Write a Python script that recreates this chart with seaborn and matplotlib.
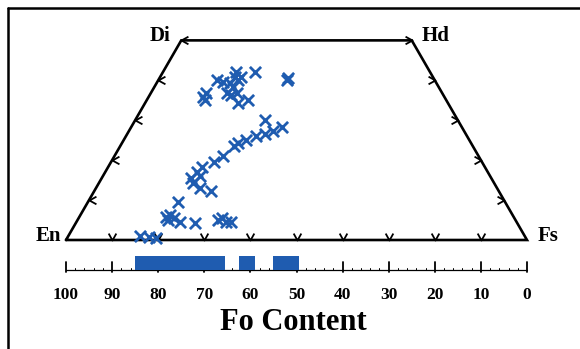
import numpy as np
import pandas as pd
import matplotlib
matplotlib.use("Agg")
import matplotlib.pyplot as plt
from matplotlib.lines import Line2D
import seaborn as sns

# ---- data: pyroxene compositions (Wo, Fs in mol %) ----
wo = [35.8, 35.1, 36.8, 40.1, 39.6, 39.3, 40.8, 40.1, 42.1, 38.3, 36.8, 36.8, 34.3,
      35.1, 42.1, 40.1, 40.6, 40.8, 36.3,
      30.1, 28.3, 27.3, 26.6, 26.1, 25.1, 24.3, 23.6, 21.0, 19.5, 18.3, 17.0, 15.5,
      16.0, 14.3, 13.0, 12.3, 9.5,
      5.8, 6.3, 5.5, 4.5, 4.3, 5.0, 5.5, 4.5, 4.5, 1.0, 0.8, 0.5, 5.0]
fs = [11.8, 12.6, 12.0, 12.7, 14.3, 15.9, 16.3, 17.3, 15.8, 17.1, 16.5, 18.7, 20.2,
      22.0, 20.0, 27.9, 27.9, 17.6, 17.6,
      28.1, 32.7, 31.3, 29.9, 28.2, 26.5, 25.2, 24.7, 23.5, 22.3, 20.4, 19.9, 19.4,
      21.1, 20.4, 22.6, 25.3, 19.5,
      18.8, 19.4, 20.7, 22.5, 25.9, 30.5, 31.1, 32.5, 33.5, 15.6, 17.6, 19.3, 19.6]

# olivine Fo content ranges (high, low)
fo_high = [85.0, 62.5, 55.0]
fo_low = [65.5, 59.0, 49.5]

fo_ticks = [100, 90, 80, 70, 60, 50, 40, 30, 20, 10, 0]
wo_ticks = [10, 20, 30, 40, 50]
corner_labels = ["En", "Fs", "Hd", "Di"]

# ---- style ----
sns.set_style("white")
plt.rcParams["font.family"] = ["Liberation Serif", "DejaVu Serif"]

BLUE = "#1f5cb0"
S3 = np.sqrt(3) / 2
SCALE = 4.61  # px per % unit

def tern(w, f):
    w = np.asarray(w, float)
    f = np.asarray(f, float)
    return f + w / 2.0, w * S3

fig = plt.figure(figsize=(5.8, 3.49), dpi=100)
ax = fig.add_axes([0, 0, 1, 1])
ax.set_xlim(-66 / SCALE, 514 / SCALE)
ax.set_ylim(-109 / SCALE, 240 / SCALE)
ax.axis("off")

# quadrilateral outline En-Fs-Hd-Di
cw = [0, 0, 50, 50, 0]
cf = [0, 100, 50, 0, 0]
qx, qy = tern(cw, cf)
ax.plot(qx, qy, color="black", lw=1.9, solid_joinstyle="miter", zorder=2)

# chevron tick marks
v_up = [(-0.55, 1), (0, 0), (0.55, 1)]
v_left = [(1, 0.55), (0, 0), (1, -0.55)]
v_right = [(-1, 0.55), (0, 0), (-1, -0.55)]
bx = [100 - t for t in fo_ticks[1:-1]]
ax.plot(bx, [0] * len(bx), ls="none", marker=v_up, ms=10, mfc="none",
        mec="black", mew=1.3, zorder=3)
lx, ly = tern(wo_ticks, [0] * len(wo_ticks))
ax.plot(lx, ly, ls="none", marker=v_left, ms=10, mfc="none",
        mec="black", mew=1.3, zorder=3)
rx, ry = tern(wo_ticks, [100 - w for w in wo_ticks])
ax.plot(rx, ry, ls="none", marker=v_right, ms=10, mfc="none",
        mec="black", mew=1.3, zorder=3)

# corner labels
lab_kw = dict(fontsize=15, fontweight="bold", color="black")
ax.text(qx[0] - 1.1, 0.8, corner_labels[0], ha="right", va="center", **lab_kw)
ax.text(qx[1] + 2.2, 0.8, corner_labels[1], ha="left", va="center", **lab_kw)
ax.text(qx[2] + 2.2, qy[2] + 0.9, corner_labels[2], ha="left", va="center", **lab_kw)
ax.text(qx[3] - 2.4, qy[3] + 0.9, corner_labels[3], ha="right", va="center", **lab_kw)

# data points
px, py = tern(wo, fs)
df = pd.DataFrame({"x": px, "y": py})
sns.scatterplot(data=df, x="x", y="y", marker="x", color=BLUE, s=65,
                linewidth=2.0, ax=ax, zorder=4, legend=False)
ax.set_xlabel("")
ax.set_ylabel("")

# Fo content scale
base = -30 / SCALE
ax.plot([0, 100], [base, base], color="black", lw=0.9, zorder=2)
for t in fo_ticks:
    x = 100 - t
    ax.plot([x, x], [base + 8 / SCALE, base - 2 / SCALE], color="black", lw=1.3)
    ax.text(x, base - 25 / SCALE, str(t), ha="center", va="center",
            fontsize=12.5, fontweight="bold", color="black")
for m in range(0, 101, 2):
    if m % 10:
        ax.plot([m, m], [base, base + 2 / SCALE], color="black", lw=0.7)

for hi, lo in zip(fo_high, fo_low):
    ax.barh(y=base + 7 / SCALE, width=hi - lo, left=100 - hi,
            height=14 / SCALE, color=BLUE, edgecolor="none", zorder=3)

ax.text(50 - 3 / SCALE, base - 52 / SCALE, "Fo Content", ha="center", va="center",
        fontsize=22, fontweight="bold", color="black")

# figure frame (left and top edges)
fig.add_artist(Line2D([8 / 580, 8 / 580], [0, 1 - 8 / 349], transform=fig.transFigure,
                      color="black", lw=1.8))
fig.add_artist(Line2D([8 / 580, 1], [1 - 8 / 349, 1 - 8 / 349], transform=fig.transFigure,
                      color="black", lw=1.8))

fig.savefig("out.png", dpi=100, facecolor="white")
